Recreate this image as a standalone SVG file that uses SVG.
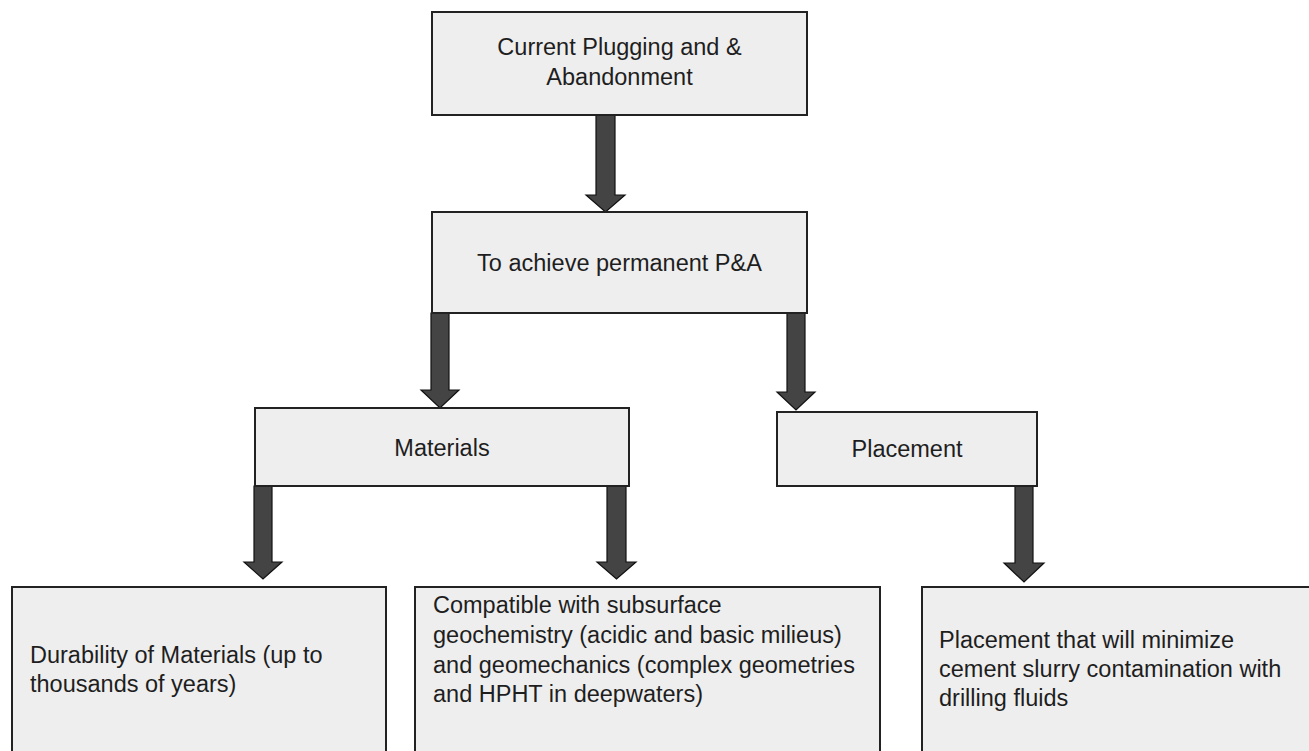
<svg xmlns="http://www.w3.org/2000/svg" width="1309" height="751" viewBox="0 0 1309 751">
<style>
.box{fill:#eeeeee;stroke:#222;stroke-width:2}
.t{font-family:"Liberation Sans",Arial,sans-serif;font-size:23.5px;fill:#1e1e1e}
.c{text-anchor:middle}
.arr{fill:#444;stroke:#111;stroke-width:1.2;stroke-linejoin:miter}
</style>
<rect width="1309" height="751" fill="#ffffff"/>
<g id="connectors">
<polygon class="arr" points="596,115 615,115 615,195 625,195 605.5,212 586,195 596,195"/>
<polygon class="arr" points="431,313 449,313 449,390 459,390 440,408 421,390 431,390"/>
<polygon class="arr" points="787,313 805,313 805,392 815,392 796,410 777,392 787,392"/>
<polygon class="arr" points="254,486 272,486 272,562 282,562 263,579 244,562 254,562"/>
<polygon class="arr" points="607,486 626,486 626,562 636,562 616.5,579 597,562 607,562"/>
<polygon class="arr" points="1015,486 1033,486 1033,563 1044,563 1024,582 1004,563 1015,563"/>
</g>
<g id="n-current">
<rect class="box" x="432" y="12" width="375" height="103"/>
<text class="t c" x="619.5" y="55">Current Plugging and &amp;</text>
<text class="t c" x="619.5" y="85">Abandonment</text>
</g>
<g id="n-achieve">
<rect class="box" x="432" y="212" width="375" height="101"/>
<text class="t c" x="619.5" y="271">To achieve permanent P&amp;A</text>
</g>
<g id="n-materials">
<rect class="box" x="255" y="408" width="374" height="78"/>
<text class="t c" x="442" y="456">Materials</text>
</g>
<g id="n-placement">
<rect class="box" x="777" y="412" width="260" height="74"/>
<text class="t c" x="907" y="457">Placement</text>
</g>
<g id="n-durability">
<rect class="box" x="12" y="587" width="374" height="180"/>
<text class="t" x="30" y="663">Durability of Materials (up to</text>
<text class="t" x="30" y="692">thousands of years)</text>
</g>
<g id="n-compatible">
<rect class="box" x="415" y="587" width="465" height="180"/>
<text class="t" x="433" y="613">Compatible with subsurface</text>
<text class="t" x="433" y="643">geochemistry (acidic and basic milieus)</text>
<text class="t" x="433" y="673">and geomechanics (complex geometries</text>
<text class="t" x="433" y="702">and HPHT in deepwaters)</text>
</g>
<g id="n-placement-detail">
<rect class="box" x="922" y="587" width="400" height="180"/>
<text class="t" x="939" y="648">Placement that will minimize</text>
<text class="t" x="939" y="677">cement slurry contamination with</text>
<text class="t" x="939" y="706">drilling fluids</text>
</g>
</svg>
